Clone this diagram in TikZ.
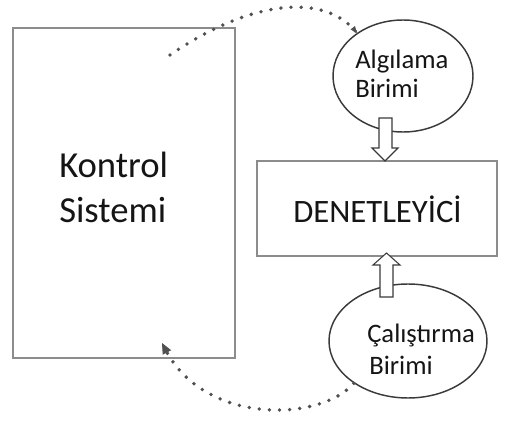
\documentclass[tikz,border=0pt]{standalone}
\usepackage{fontspec}
\setmainfont{Carlito}
\usetikzlibrary{arrows.meta,shapes.geometric,calc}
\definecolor{boxgray}{HTML}{8C8C8C}
\definecolor{ellgray}{HTML}{3A3A3A}
\definecolor{dotgray}{HTML}{505050}
\definecolor{txt}{HTML}{151515}
\tikzset{
  box/.style={draw=boxgray, line width=1.6pt, rectangle, inner sep=0pt},
  unit/.style={draw=ellgray, line width=1.1pt, ellipse, inner sep=0pt},
  lbl/.style={anchor=base west, inner sep=0pt, text=txt},
  dotline/.style={draw=dotgray, line width=2.9pt, line cap=round, dash pattern=on 0pt off 7.6pt},
  tipline/.style={draw=dotgray, line width=0.6pt, solid},
  hollow/.style={draw=ellgray, line width=0.8pt, fill=white, line join=miter}
}
\begin{document}
\begin{tikzpicture}[x=0.75pt,y=-0.75pt]
\useasboundingbox (0,0) rectangle (508,421);
% boxes
\node[box, minimum width=166.5pt, minimum height=247.5pt] (ks) at (124,193) {};
\node[box, minimum width=180pt, minimum height=71.25pt] (den) at (377,208.5) {};
% ellipses
\node[unit, minimum width=105pt, minimum height=84pt] (alg) at (403,76) {};
\node[unit, minimum width=118.5pt, minimum height=85.5pt] (cal) at (408,341) {};
% texts
\node[lbl, font=\fontsize{27.5pt}{33pt}\selectfont] (t1) at (59,177) {Kontrol};
\node[lbl, font=\fontsize{27.5pt}{33pt}\selectfont] (t2) at (59,222) {Sistemi};
\node[lbl, font=\fontsize{24.5pt}{29pt}\selectfont] (t3) at (293,222) {DENETLEYİCİ};
\node[lbl, font=\fontsize{20pt}{24pt}\selectfont] (t4) at (355,68) {Algılama};
\node[lbl, font=\fontsize{20pt}{24pt}\selectfont] (t5) at (355,97) {Birimi};
\node[lbl, font=\fontsize{20pt}{24pt}\selectfont] (t6) at (367,342) {Çalıştırma};
\node[lbl, font=\fontsize{20pt}{24pt}\selectfont] (t7) at (369,374) {Birimi};
% hollow arrows
\draw[hollow] (379,118) -- (392,118) -- (392,148) -- (398,148) -- (385,161)
  -- (372,148) -- (379,148) -- cycle;
\draw[hollow] (380,297) -- (393,297) -- (393,265) -- (400,265) -- (386.5,253)
  -- (373,265) -- (380,265) -- cycle;
% dotted feedback curves
\coordinate (s1) at (170,55);
\coordinate (e2) at (162,343);
\coordinate (c1) at (325,-8);
\coordinate (c2) at (205,425);
\draw[dotline] (s1) .. controls (250,0) and (c1) .. (alg.137);
\draw[dotline] (cal.218) .. controls (320,422) and (c2) .. ($(e2)!6pt!(c2)$);
\draw[tipline, -{Triangle[length=5pt,width=4pt]}] ($(alg.137)!1pt!(c1)$) -- (alg.137);
\draw[tipline, -{Triangle[length=8pt,width=7pt]}] ($(e2)!1pt!(c2)$) -- (e2);
\end{tikzpicture}
\end{document}
